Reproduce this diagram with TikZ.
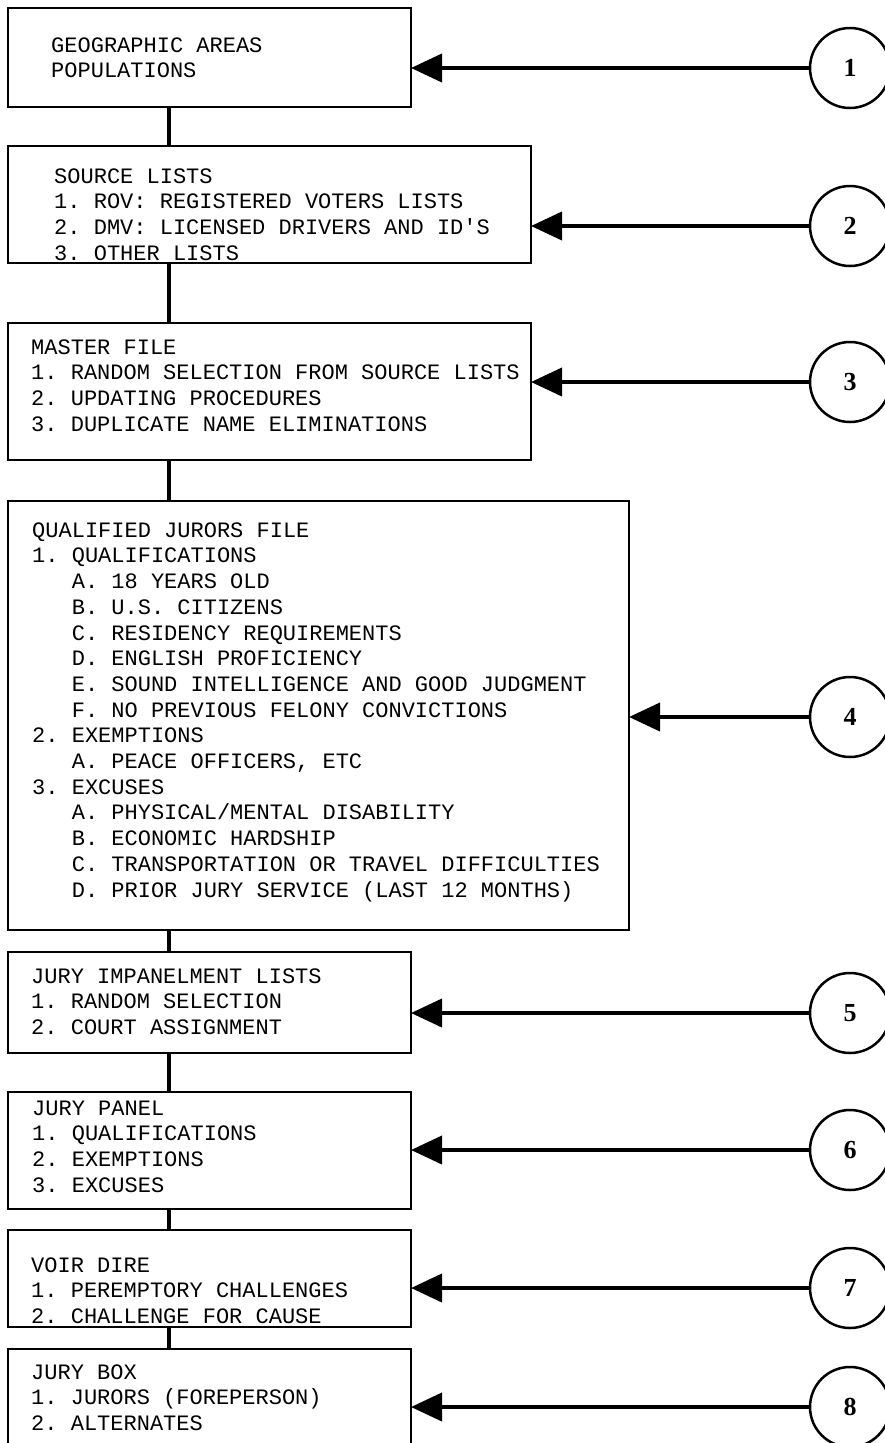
\documentclass[tikz,border=0pt]{standalone}
\usepackage{fontspec}
\setmonofont{Liberation Mono}
\newfontfamily\numfont{Liberation Serif}
\usetikzlibrary{arrows.meta}
\newcommand{\ind}{\hspace*{39.6pt}}
\begin{document}
\begin{tikzpicture}[x=1pt,y=-1pt,
  box/.style={draw, line width=2.5pt, inner sep=0pt, outer sep=0pt, anchor=north west},
  txt/.style={font=\ttfamily\fontsize{22}{25.7}\selectfont, align=left, anchor=north west, inner sep=0pt},
  circ/.style={draw, circle, line width=2.5pt, minimum size=80pt, inner sep=0pt, font=\numfont\bfseries\fontsize{26}{26}\selectfont},
  feed/.style={line width=4pt, -{Triangle[length=31pt,width=28pt]}},
  link/.style={line width=4pt}]
\useasboundingbox (0,0) rectangle (885,1443);
\clip (0,0) rectangle (885,1443);
% boxes
\node[box, minimum width=403pt, minimum height=99pt]  (b1) at (8,8) {};
\node[box, minimum width=523pt, minimum height=117pt] (b2) at (8,146) {};
\node[box, minimum width=523pt, minimum height=137pt] (b3) at (8,323) {};
\node[box, minimum width=621pt, minimum height=429pt] (b4) at (8,501) {};
\node[box, minimum width=403pt, minimum height=101pt] (b5) at (8,952) {};
\node[box, minimum width=403pt, minimum height=117pt] (b6) at (8,1092) {};
\node[box, minimum width=403pt, minimum height=97pt]  (b7) at (8,1230) {};
\node[box, minimum width=403pt, minimum height=160pt] (b8) at (8,1349) {};
% texts
\node[txt] (t1) at (51,34) {\strut GEOGRAPHIC AREAS\\POPULATIONS};
\node[txt] (t2) at (54,165) {\strut SOURCE LISTS\\1. ROV: REGISTERED VOTERS LISTS\\2. DMV: LICENSED DRIVERS AND ID'S\\3. OTHER LISTS};
\node[txt] (t3) at (31,336) {\strut MASTER FILE\\1. RANDOM SELECTION FROM SOURCE LISTS\\2. UPDATING PROCEDURES\\3. DUPLICATE NAME ELIMINATIONS};
\node[txt] (t4) at (32,519) {\strut QUALIFIED JURORS FILE\\1. QUALIFICATIONS\\
\ind A. 18 YEARS OLD\\\ind B. U.S. CITIZENS\\\ind C. RESIDENCY REQUIREMENTS\\\ind D. ENGLISH PROFICIENCY\\
\ind E. SOUND INTELLIGENCE AND GOOD JUDGMENT\\\ind F. NO PREVIOUS FELONY CONVICTIONS\\
2. EXEMPTIONS\\\ind A. PEACE OFFICERS, ETC\\3. EXCUSES\\\ind A. PHYSICAL/MENTAL DISABILITY\\
\ind B. ECONOMIC HARDSHIP\\\ind C. TRANSPORTATION OR TRAVEL DIFFICULTIES\\\ind D. PRIOR JURY SERVICE (LAST 12 MONTHS)};
\node[txt] (t5) at (31,965) {\strut JURY IMPANELMENT LISTS\\1. RANDOM SELECTION\\2. COURT ASSIGNMENT};
\node[txt] (t6) at (32,1097) {\strut JURY PANEL\\1. QUALIFICATIONS\\2. EXEMPTIONS\\3. EXCUSES};
\node[txt] (t7) at (31,1254) {\strut VOIR DIRE\\1. PEREMPTORY CHALLENGES\\2. CHALLENGE FOR CAUSE};
\node[txt] (t8) at (31,1361) {\strut JURY BOX\\1. JURORS (FOREPERSON)\\2. ALTERNATES};
% circles
\node[circ] (c1) at (850,68) {1};
\node[circ] (c2) at (850,226) {2};
\node[circ] (c3) at (850,382) {3};
\node[circ] (c4) at (850,717) {4};
\node[circ] (c5) at (850,1013) {5};
\node[circ] (c6) at (850,1150) {6};
\node[circ] (c7) at (850,1288) {7};
\node[circ] (c8) at (850,1407) {8};
% feed arrows
\foreach \i in {1,...,8}{
  \draw[feed] (c\i.west) -- (c\i.west -| b\i.east);
}
% vertical links
\foreach \a/\b in {1/2,2/3,3/4,4/5,5/6,6/7,7/8}{
  \draw[link] ([xshift=161pt]b\a.south west) -- ([xshift=161pt]b\b.north west);
}
\end{tikzpicture}
\end{document}
